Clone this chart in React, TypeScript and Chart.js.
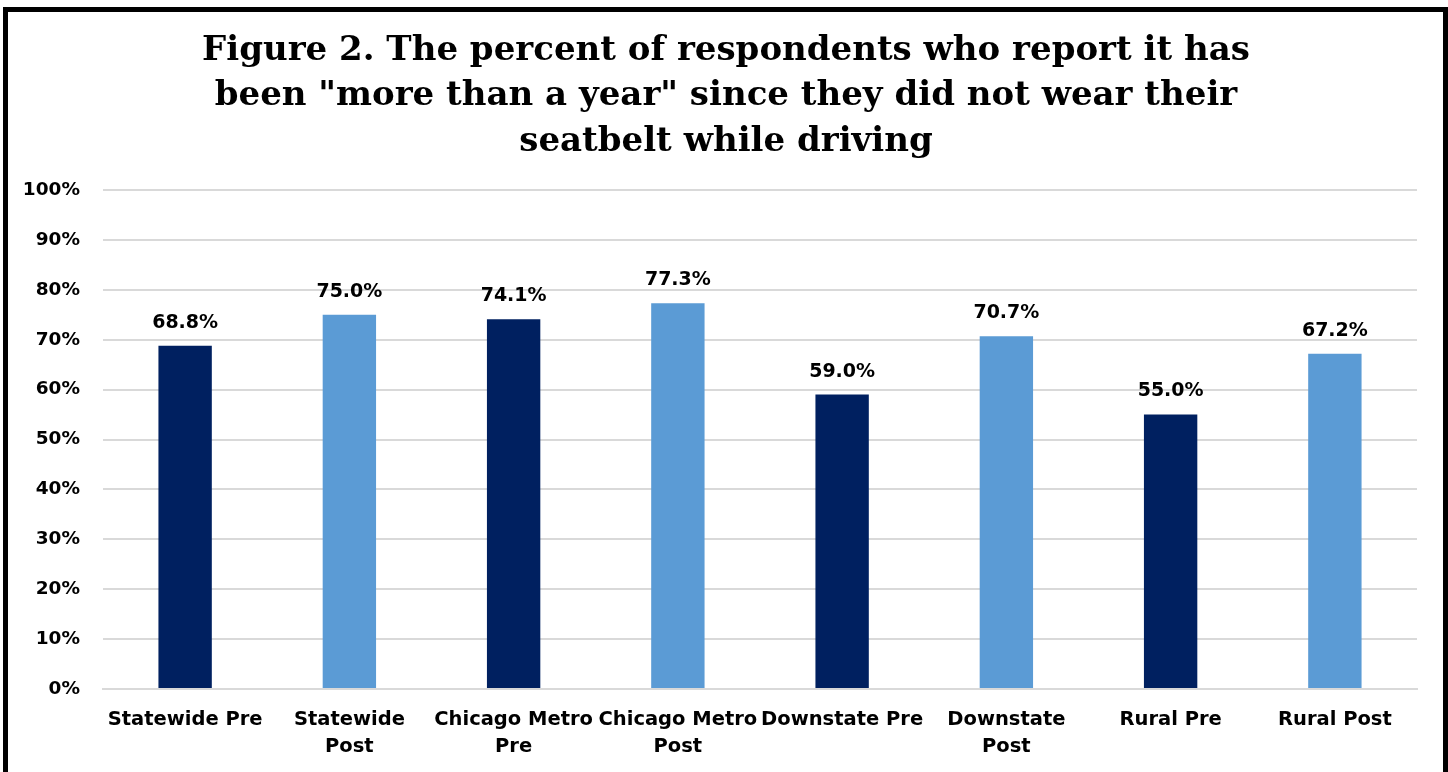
import React, { useEffect, useRef } from "react";
import { Chart, registerables } from "chart.js";

Chart.register(...registerables);

const categories: string[][] = [
  ["Statewide Pre"],
  ["Statewide", "Post"],
  ["Chicago Metro", "Pre"],
  ["Chicago Metro", "Post"],
  ["Downstate Pre"],
  ["Downstate", "Post"],
  ["Rural Pre"],
  ["Rural Post"],
];
const values: number[] = [68.8, 75.0, 74.1, 77.3, 59.0, 70.7, 55.0, 67.2];
const PRE = "#002060";
const POST = "#5B9BD5";
const barColors: string[] = [PRE, POST, PRE, POST, PRE, POST, PRE, POST];
const titleLines: string[] = [
  "Figure 2. The percent of respondents who report it has",
  'been "more than a year" since they did not wear their',
  "seatbelt while driving",
];

const SANS = "'DejaVu Sans', sans-serif";

const valueLabels = {
  id: "valueLabels",
  afterDatasetsDraw(chart: any) {
    const ctx = chart.ctx;
    const meta = chart.getDatasetMeta(0);
    ctx.save();
    ctx.font = `bold 19px ${SANS}`;
    ctx.fillStyle = "#000";
    ctx.textAlign = "center";
    ctx.textBaseline = "middle";
    meta.data.forEach((bar: any, i: number) => {
      ctx.fillText(values[i].toFixed(1) + "%", bar.x, bar.y - 23);
    });
    ctx.restore();
  },
};

const titleBlock = {
  id: "titleBlock",
  afterDraw(chart: any) {
    const ctx = chart.ctx;
    ctx.save();
    ctx.font = "bold 34px 'DejaVu Serif', serif";
    ctx.fillStyle = "#000";
    ctx.textAlign = "center";
    ctx.textBaseline = "middle";
    titleLines.forEach((line, i) => {
      ctx.fillText(line, 726, 51 + i * 45.5);
    });
    ctx.restore();
  },
};

export default function App() {
  const ref = useRef<HTMLCanvasElement | null>(null);
  useEffect(() => {
    if (!ref.current) return;
    const chart = new Chart(ref.current, {
      type: "bar",
      data: {
        labels: categories,
        datasets: [
          {
            data: values,
            backgroundColor: barColors,
            barPercentage: 0.325,
            categoryPercentage: 1,
          },
        ],
      },
      options: {
        animation: false,
        responsive: false,
        layout: { padding: { left: 10, right: 31, top: 190, bottom: 0 } },
        plugins: {
          legend: { display: false },
          tooltip: { enabled: false },
          title: { display: false },
        },
        scales: {
          x: {
            grid: { display: false, drawTicks: false },
            border: { display: true, color: "#d9d9d9", width: 2 },
            ticks: {
              color: "#000",
              font: { family: SANS, weight: "bold", size: 19.5, lineHeight: 1.4 },
              padding: 17,
              maxRotation: 0,
              autoSkip: false,
            },
            afterFit: (s: any) => {
              s.height = 83;
            },
          },
          y: {
            min: 0,
            max: 100,
            grid: { color: "#d9d9d9", lineWidth: 2, drawTicks: false },
            border: { display: false },
            ticks: {
              stepSize: 10,
              color: "#000",
              font: { family: SANS, weight: "bold", size: 18.5 },
              padding: 23,
              callback: (v: any) => v + "%",
            },
            afterFit: (s: any) => {
              s.width = 93;
            },
          },
        },
      },
      plugins: [valueLabels, titleBlock],
    });
    return () => chart.destroy();
  }, []);

  return (
    <div style={{ position: "fixed", left: 0, top: 0, width: 1448, height: 772, background: "#fff", overflow: "hidden" }}>
      <canvas ref={ref} width={1448} height={772} style={{ display: "block" }} />
      <div
        style={{
          position: "absolute",
          left: 3,
          top: 7,
          width: 1445,
          height: 800,
          border: "5px solid #000",
          boxSizing: "border-box",
          pointerEvents: "none",
        }}
      />
    </div>
  );
}
